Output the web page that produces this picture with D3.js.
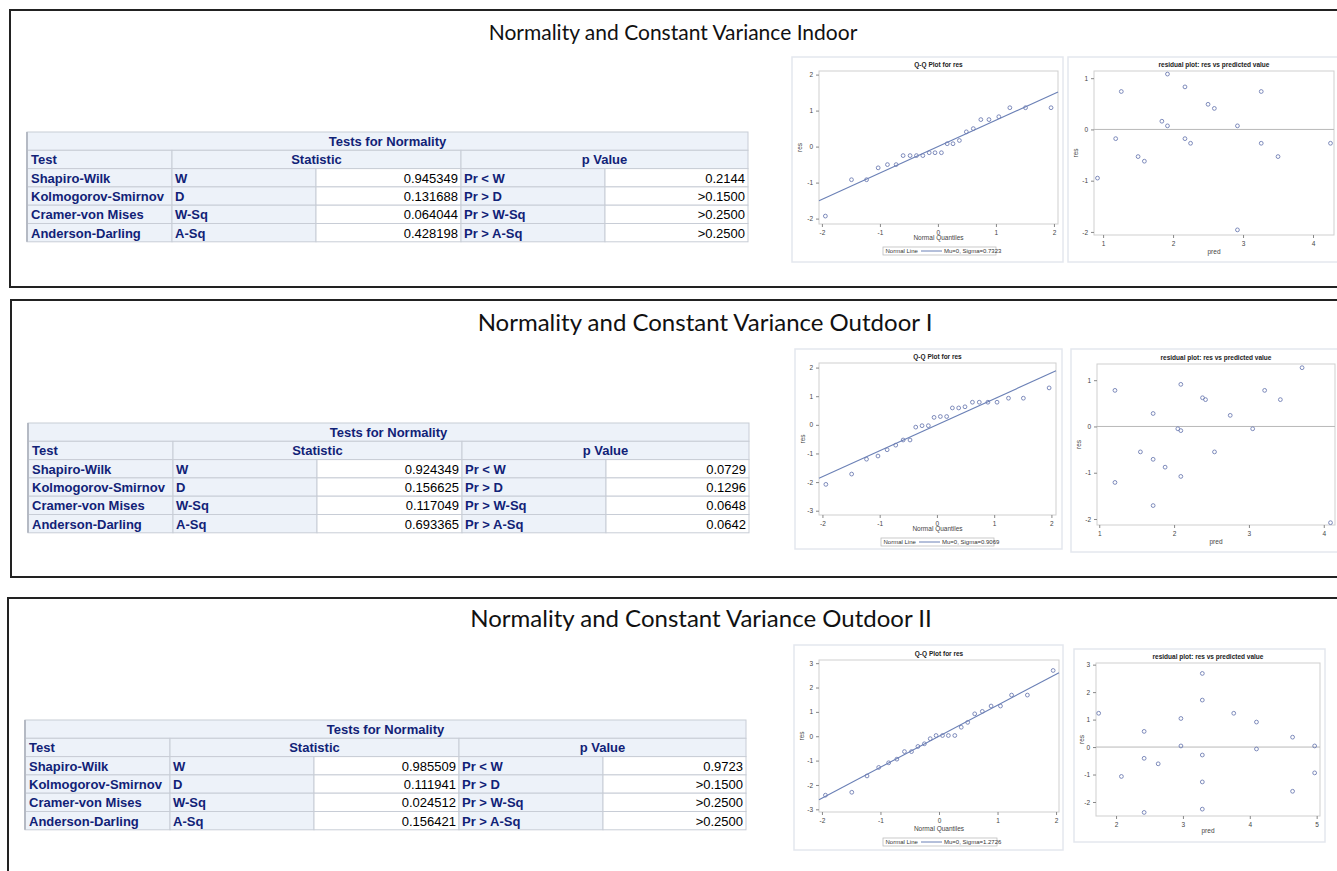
<!DOCTYPE html>
<html lang="en">
<head>
<meta charset="utf-8">
<title>Normality and Constant Variance</title>
<script src="https://cdn.jsdelivr.net/npm/d3@7"></script>
<style>
  body { margin: 0; background: #fff; }
  svg { display: block; }
  .tick text { font-family: "Liberation Sans", Arial, sans-serif; fill: #444; }
</style>
</head>
<body>
<svg id="chart" width="1337" height="871"></svg>
<script>
// ---- table data ----
var tests = ["Shapiro-Wilk", "Kolmogorov-Smirnov", "Cramer-von Mises", "Anderson-Darling"];
var statLabels = ["W", "D", "W-Sq", "A-Sq"];
var pLabels = ["Pr < W", "Pr > D", "Pr > W-Sq", "Pr > A-Sq"];

var statIndoor = ["0.945349", "0.131688", "0.064044", "0.428198"];
var pIndoor = ["0.2144", ">0.1500", ">0.2500", ">0.2500"];
var statOut1 = ["0.924349", "0.156625", "0.117049", "0.693365"];
var pOut1 = ["0.0729", "0.1296", "0.0648", "0.0642"];
var statOut2 = ["0.985509", "0.111941", "0.024512", "0.156421"];
var pOut2 = ["0.9723", ">0.1500", ">0.2500", ">0.2500"];

// ---- Q-Q plot data (normal quantile, residual) ----
var qqQ1 = [-1.94,-1.49,-1.23,-1.03,-0.87,-0.72,-0.60,-0.48,-0.37,-0.26,-0.15,-0.05,0.06,0.16,0.26,0.37,0.49,0.61,0.74,0.88,1.05,1.24,1.51,1.95];
var qqR1 = [-1.93,-0.92,-0.92,-0.59,-0.50,-0.50,-0.25,-0.25,-0.25,-0.25,-0.17,-0.17,-0.17,0.08,0.08,0.17,0.41,0.50,0.75,0.75,0.83,1.08,1.08,1.08];
var sigma1 = 0.7323;

var qqQ2 = [-1.94,-1.49,-1.23,-1.03,-0.87,-0.72,-0.59,-0.47,-0.37,-0.26,-0.15,-0.05,0.06,0.17,0.27,0.38,0.49,0.62,0.74,0.89,1.05,1.25,1.51,1.96];
var qqR2 = [-2.08,-1.72,-1.20,-1.09,-0.87,-0.71,-0.53,-0.53,-0.08,-0.03,-0.03,0.26,0.29,0.29,0.59,0.59,0.63,0.79,0.79,0.79,0.79,0.93,0.93,1.29];
var sigma2 = 0.9069;

var qqQ3 = [-1.94,-1.49,-1.23,-1.03,-0.86,-0.72,-0.59,-0.47,-0.36,-0.25,-0.15,-0.05,0.06,0.16,0.27,0.38,0.49,0.61,0.74,0.89,1.05,1.24,1.51,1.95];
var qqR3 = [-2.42,-2.30,-1.63,-1.28,-1.09,-0.94,-0.63,-0.63,-0.42,-0.31,-0.10,0.03,0.03,0.03,0.03,0.37,0.57,0.92,1.02,1.24,1.24,1.69,1.69,2.70];
var sigma3 = 1.2726;

// ---- residual plot data (predicted, residual) ----
var pred1 = [0.92,1.18,1.26,1.50,1.59,1.84,1.92,1.92,2.17,2.17,2.25,2.50,2.59,2.92,2.92,3.26,3.26,3.50,4.25];
var res1  = [-0.95,-0.18,0.74,-0.53,-0.62,0.16,1.08,0.07,0.83,-0.18,-0.27,0.49,0.41,0.07,-1.96,0.74,-0.27,-0.53,-0.27];

var pred2 = [1.21,1.21,1.55,1.72,1.72,1.72,1.88,2.05,2.09,2.09,2.09,2.38,2.42,2.54,2.75,3.05,3.21,3.42,3.71,4.09];
var res2  = [0.78,-1.21,-0.55,0.28,-0.71,-1.71,-0.88,-0.05,0.91,-0.09,-1.08,0.62,0.58,-0.55,0.24,-0.05,0.78,0.58,1.27,-2.08];

var pred3 = [1.74,2.08,2.42,2.42,2.42,2.63,2.97,2.97,3.29,3.29,3.29,3.29,3.29,3.76,4.10,4.10,4.64,4.64,4.97,4.97];
var res3  = [1.23,-1.07,0.57,-0.41,-2.38,-0.61,1.04,0.04,2.68,1.71,-0.29,-1.27,-2.26,1.23,0.91,-0.07,0.36,-1.61,0.04,-0.94];

// ---- tick values ----
var qqXTicks = [-2, -1, 0, 1, 2];
var yTicks1 = [-2, -1, 0, 1, 2];
var yTicks2 = [-3, -2, -1, 0, 1, 2];
var yTicks3 = [-3, -2, -1, 0, 1, 2, 3];
var rXTicks1 = [1, 2, 3, 4];
var rYTicks1 = [-2, -1, 0, 1];
var rXTicks3 = [2, 3, 4, 5];
var rYTicks3 = [-2, -1, 0, 1, 2, 3];

var titles = ["Normality and Constant Variance Indoor",
              "Normality and Constant Variance Outdoor I",
              "Normality and Constant Variance Outdoor II"];

var navy = "#112277", headBg = "#EDF2F9", gridCol = "#C8CDD6";
var markCol = "#6F7EB3", lineCol = "#6B80B6";
var svg = d3.select("#chart");

// panel frames
var panels = [
  {x: 10, y: 10, h: 277, tx: 673, ty: 40, fs: 21},
  {x: 11, y: 300, h: 277, tx: 705, ty: 331, fs: 24},
  {x: 8, y: 598, h: 300, tx: 701, ty: 627, fs: 24}
];
panels.forEach(function(p, i) {
  svg.append("rect").attr("x", p.x).attr("y", p.y)
     .attr("width", 1400).attr("height", p.h)
     .attr("fill", "#fff").attr("stroke", "#222").attr("stroke-width", 2);
  svg.append("text").attr("x", p.tx).attr("y", p.ty)
     .attr("text-anchor", "middle")
     .style("font-family", "Lato, 'Open Sans', sans-serif")
     .style("font-size", p.fs + "px").attr("fill", "#111")
     .text(titles[i]);
});

function drawTable(x0, y0, stats, pvals) {
  var widths = [145, 144, 145, 144, 143];
  var rh = 18.3;
  var xs = [x0];
  widths.forEach(function(w) { xs.push(xs[xs.length - 1] + w); });
  var total = xs[5] - x0;
  var g = svg.append("g").style("font-family", "'Liberation Sans', Arial, sans-serif")
             .style("font-size", "13px");

  function cell(x, y, w, bg) {
    g.append("rect").attr("x", x).attr("y", y).attr("width", w).attr("height", rh)
     .attr("fill", bg).attr("stroke", gridCol).attr("stroke-width", 1);
  }
  function txt(x, y, s, anchor, bold, col) {
    g.append("text").attr("x", x).attr("y", y + 14).attr("text-anchor", anchor)
     .style("font-weight", bold ? "bold" : "normal").attr("fill", col).text(s);
  }
  // title row
  cell(x0, y0, total, headBg);
  txt(x0 + total / 2, y0, "Tests for Normality", "middle", true, navy);
  // header row
  var y1 = y0 + rh;
  cell(xs[0], y1, widths[0], headBg);
  cell(xs[1], y1, widths[1] + widths[2], headBg);
  cell(xs[3], y1, widths[3] + widths[4], headBg);
  txt(xs[0] + 4, y1, "Test", "start", true, navy);
  txt((xs[1] + xs[3]) / 2, y1, "Statistic", "middle", true, navy);
  txt((xs[3] + xs[5]) / 2, y1, "p Value", "middle", true, navy);
  // body rows
  tests.forEach(function(t, i) {
    var y = y0 + rh * (i + 2);
    cell(xs[0], y, widths[0], headBg);
    cell(xs[1], y, widths[1], headBg);
    cell(xs[2], y, widths[2], "#fff");
    cell(xs[3], y, widths[3], headBg);
    cell(xs[4], y, widths[4], "#fff");
    txt(xs[0] + 4, y, t, "start", true, navy);
    txt(xs[1] + 3, y, statLabels[i], "start", true, navy);
    txt(xs[3] - 3, y, stats[i], "end", false, "#000");
    txt(xs[3] + 3, y, pLabels[i], "start", true, navy);
    txt(xs[5] - 3, y, pvals[i], "end", false, "#000");
  });
  // darker left edge
  g.append("line").attr("x1", x0).attr("x2", x0).attr("y1", y0).attr("y2", y0 + rh * 6)
   .attr("stroke", "#B5BAC4").attr("stroke-width", 2);
}

drawTable(27, 132, statIndoor, pIndoor);
drawTable(28, 423, statOut1, pOut1);
drawTable(25, 720, statOut2, pOut2);

// generic SAS-like plot
function drawPlot(c) {
  var g = svg.append("g").style("font-family", "'Liberation Sans', Arial, sans-serif");
  g.append("rect").attr("x", c.fx0).attr("y", c.fy0)
   .attr("width", c.fx1 - c.fx0).attr("height", c.fy1 - c.fy0)
   .attr("fill", "#fff").attr("stroke", "#E4E7EE").attr("stroke-width", 1.5);

  var x = d3.scaleLinear().domain(c.xd).range([c.ax0, c.ax1]);
  var y = d3.scaleLinear().domain(c.yd).range([c.ay1, c.ay0]);

  g.append("rect").attr("x", c.ax0).attr("y", c.ay0)
   .attr("width", c.ax1 - c.ax0).attr("height", c.ay1 - c.ay0)
   .attr("fill", "#fff").attr("stroke", "#CFCFCF").attr("stroke-width", 1);

  var xa = g.append("g").attr("transform", "translate(0," + c.ay1 + ")")
    .call(d3.axisBottom(x).tickValues(c.xt).tickSize(3).tickPadding(3)
      .tickFormat(function(d) { return String(d); }));
  var ya = g.append("g").attr("transform", "translate(" + c.ax0 + ",0)")
    .call(d3.axisLeft(y).tickValues(c.yt).tickSize(3).tickPadding(3)
      .tickFormat(function(d) { return String(d); }));
  [xa, ya].forEach(function(a) {
    a.select(".domain").remove();
    a.selectAll(".tick line").attr("stroke", "#888");
    a.selectAll(".tick text").style("font-size", "6.5px");
  });

  g.append("text").attr("x", (c.ax0 + c.ax1) / 2).attr("y", c.ay0 - 4)
   .attr("text-anchor", "middle").style("font-size", "6.5px").style("font-weight", "bold")
   .attr("fill", "#222").text(c.title);
  g.append("text").attr("x", (c.ax0 + c.ax1) / 2).attr("y", c.xly)
   .attr("text-anchor", "middle").style("font-size", "6.5px").attr("fill", "#444").text(c.xlab);
  g.append("text").attr("transform", "translate(" + (c.fx0 + 10) + "," + ((c.ay0 + c.ay1) / 2) + ") rotate(-90)")
   .attr("text-anchor", "middle").style("font-size", "6.5px").attr("fill", "#444").text("res");

  var marks = g.append("g");
  if (c.zero) {
    marks.append("line").attr("x1", c.ax0).attr("x2", c.ax1)
        .attr("y1", y(0)).attr("y2", y(0)).attr("stroke", "#B8B8B8").attr("stroke-width", 1);
  }
  if (c.sigma) {
    marks.append("line")
        .attr("x1", x(c.xd[0])).attr("y1", y(c.sigma * c.xd[0]))
        .attr("x2", x(c.xd[1])).attr("y2", y(c.sigma * c.xd[1]))
        .attr("stroke", lineCol).attr("stroke-width", 1.1);
  }
  marks.selectAll("circle.pt").data(c.xs.map(function(v, i) { return [v, c.ys[i]]; }))
    .enter().append("circle").attr("class", "pt")
    .attr("cx", function(d) { return x(d[0]); })
    .attr("cy", function(d) { return y(d[1]); })
    .attr("r", 1.9).attr("fill", "none").attr("stroke", markCol).attr("stroke-width", 0.9);

  if (c.sigma) {
    var lx0 = c.lx0, lx1 = c.lx1, ly0 = c.ly0, ly1 = c.ly1;
    g.append("rect").attr("x", lx0).attr("y", ly0).attr("width", lx1 - lx0).attr("height", ly1 - ly0)
     .attr("fill", "#fff").attr("stroke", "#BDBDBD").attr("stroke-width", 0.8);
    var my = (ly0 + ly1) / 2;
    g.append("text").attr("x", lx0 + 2.5).attr("y", my + 2.2).style("font-size", "6px")
     .attr("fill", "#333").text("Normal Line");
    g.append("line").attr("x1", lx0 + 38).attr("x2", lx0 + 59).attr("y1", my).attr("y2", my)
     .attr("stroke", lineCol).attr("stroke-width", 1);
    g.append("text").attr("x", lx0 + 61).attr("y", my + 2.2).style("font-size", "6px")
     .attr("fill", "#333").text("Mu=0, Sigma=" + c.sigma.toFixed(4));
  }
}

// Q-Q plots
drawPlot({fx0: 792, fy0: 57, fx1: 1063, fy1: 262, ax0: 819, ax1: 1058, ay0: 71, ay1: 224,
  xd: [-2.05, 2.07], yd: [-2.15, 2.10], xt: qqXTicks, yt: yTicks1, xs: qqQ1, ys: qqR1,
  sigma: sigma1, title: "Q-Q Plot for res", xlab: "Normal Quantiles", xly: 240,
  lx0: 883, lx1: 996, ly0: 247, ly1: 255});
drawPlot({fx0: 795, fy0: 349, fx1: 1062, fy1: 549, ax0: 819, ax1: 1056, ay0: 363, ay1: 515,
  xd: [-2.06, 2.08], yd: [-3.15, 2.16], xt: qqXTicks, yt: yTicks2, xs: qqQ2, ys: qqR2,
  sigma: sigma2, title: "Q-Q Plot for res", xlab: "Normal Quantiles", xly: 531,
  lx0: 881, lx1: 994, ly0: 538, ly1: 546});
drawPlot({fx0: 794, fy0: 645, fx1: 1063, fy1: 850, ax0: 819, ax1: 1059, ay0: 660, ay1: 812,
  xd: [-2.05, 2.05], yd: [-3.11, 3.13], xt: qqXTicks, yt: yTicks3, xs: qqQ3, ys: qqR3,
  sigma: sigma3, title: "Q-Q Plot for res", xlab: "Normal Quantiles", xly: 831,
  lx0: 883, lx1: 997, ly0: 838, ly1: 846});

// residual plots
drawPlot({fx0: 1068, fy0: 57, fx1: 1345, fy1: 262, ax0: 1094, ax1: 1334, ay0: 71, ay1: 235,
  xd: [0.87, 4.30], yd: [-2.06, 1.14], xt: rXTicks1, yt: rYTicks1, xs: pred1, ys: res1,
  zero: true, title: "residual plot: res vs predicted value", xlab: "pred", xly: 254});
drawPlot({fx0: 1071, fy0: 349, fx1: 1345, fy1: 552, ax0: 1097, ax1: 1335, ay0: 364, ay1: 525,
  xd: [0.97, 4.15], yd: [-2.13, 1.35], xt: rXTicks1, yt: rYTicks1, xs: pred2, ys: res2,
  zero: true, title: "residual plot: res vs predicted value", xlab: "pred", xly: 544});
drawPlot({fx0: 1074, fy0: 649, fx1: 1325, fy1: 842, ax0: 1096, ax1: 1320, ay0: 663, ay1: 816,
  xd: [1.70, 5.05], yd: [-2.51, 3.06], xt: rXTicks3, yt: rYTicks3, xs: pred3, ys: res3,
  zero: true, title: "residual plot: res vs predicted value", xlab: "pred", xly: 833});
</script>
</body>
</html>
